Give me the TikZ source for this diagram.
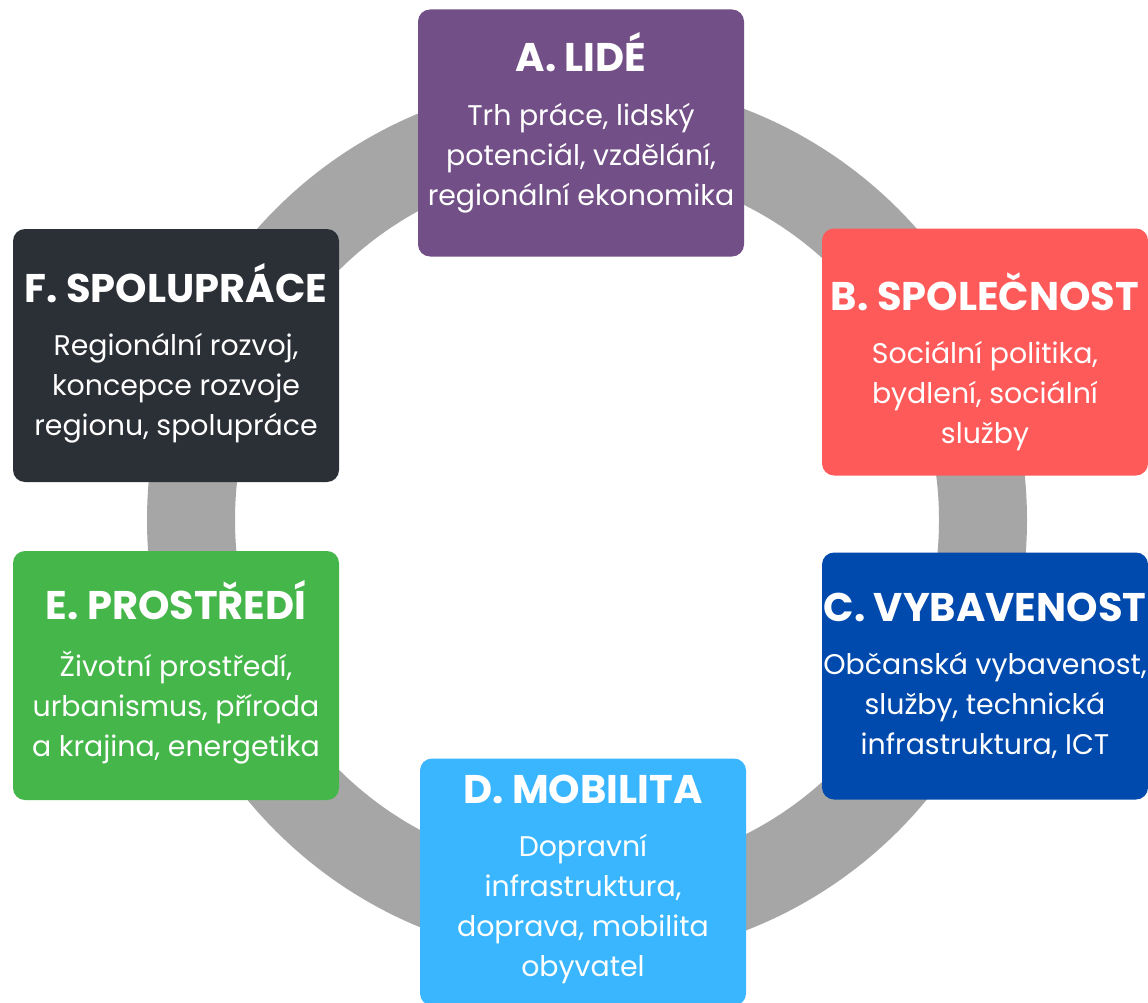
\documentclass[tikz,border=0pt]{standalone}
\usepackage{fontspec}
\setmainfont{Poppins}
\usetikzlibrary{positioning}
\definecolor{ringgray}{HTML}{A6A6A6}
\definecolor{lideclr}{HTML}{734F87}
\definecolor{spolclr}{HTML}{FF5A5A}
\definecolor{vybclr}{HTML}{014AAD}
\definecolor{mobclr}{HTML}{3AB6FF}
\definecolor{prosclr}{HTML}{45B649}
\definecolor{sponclr}{HTML}{2B2F36}
\tikzset{
    area/.style={
        rectangle,
        rounded corners=12pt,
        minimum width=326pt,
        minimum height=247pt,
        inner sep=0pt
    },
    areatitle/.style={
        text=white,
        anchor=base,
        inner sep=0pt,
        font=\fontsize{40}{44}\selectfont\bfseries
    },
    areatext/.style={
        text=white,
        align=center,
        inner sep=0pt,
        font=\fontsize{28.4}{40}\selectfont
    }
}

\begin{document}
\begin{tikzpicture}[x=1pt, y=-1pt, node distance=31pt]
  \clip (0,0) rectangle (1148,1003);
  \fill[white] (0,0) rectangle (1148,1003);

  % ring behind the six areas
  \fill[ringgray, even odd rule] (587,520) circle (440pt) (587,520) circle (352pt);

  % A - top
  \node[area, fill=lideclr] (lide) at (581,133) {};
  \node[areatitle] (lideT) at (581,72) {A. LIDÉ};
  \node[areatext, below=of lideT] (lideB) {Trh práce, lidský\\potenciál, vzdělání,\\regionální ekonomika};

  % B - right, upper
  \node[area, fill=spolclr] (spol) at (985,352) {};
  \node[areatitle] (spolT) at (985,310) {B. SPOLEČNOST};
  \node[areatext, below=of spolT] (spolB) {Sociální politika,\\bydlení, sociální\\služby};

  % C - right, lower
  \node[area, fill=vybclr] (vyb) at (985,676) {};
  \node[areatitle] (vybT) at (985,621) {C. VYBAVENOST};
  \node[areatext, below=of vybT] (vybB) {Občanská vybavenost,\\služby, technická\\infrastruktura, ICT};

  % D - bottom (cut by the page edge)
  \node[area, fill=mobclr] (mob) at (583,882) {};
  \node[areatitle] (mobT) at (583,803) {D. MOBILITA};
  \node[areatext, below=of mobT] (mobB) {Dopravní\\infrastruktura,\\doprava, mobilita\\obyvatel};

  % E - left, lower
  \node[area, fill=prosclr, minimum height=249pt] (pros) at (176,675.5) {};
  \node[areatitle] (prosT) at (176,619) {E. PROSTŘEDÍ};
  \node[areatext, below=of prosT] (prosB) {Životní prostředí,\\urbanismus, příroda\\a krajina, energetika};

  % F - left, upper
  \node[area, fill=sponclr, minimum height=253pt] (spon) at (176,355.5) {};
  \node[areatitle] (sponT) at (176,302) {F. SPOLUPRÁCE};
  \node[areatext, below=of sponT] (sponB) {Regionální rozvoj,\\koncepce rozvoje\\regionu, spolupráce};
\end{tikzpicture}
\end{document}
